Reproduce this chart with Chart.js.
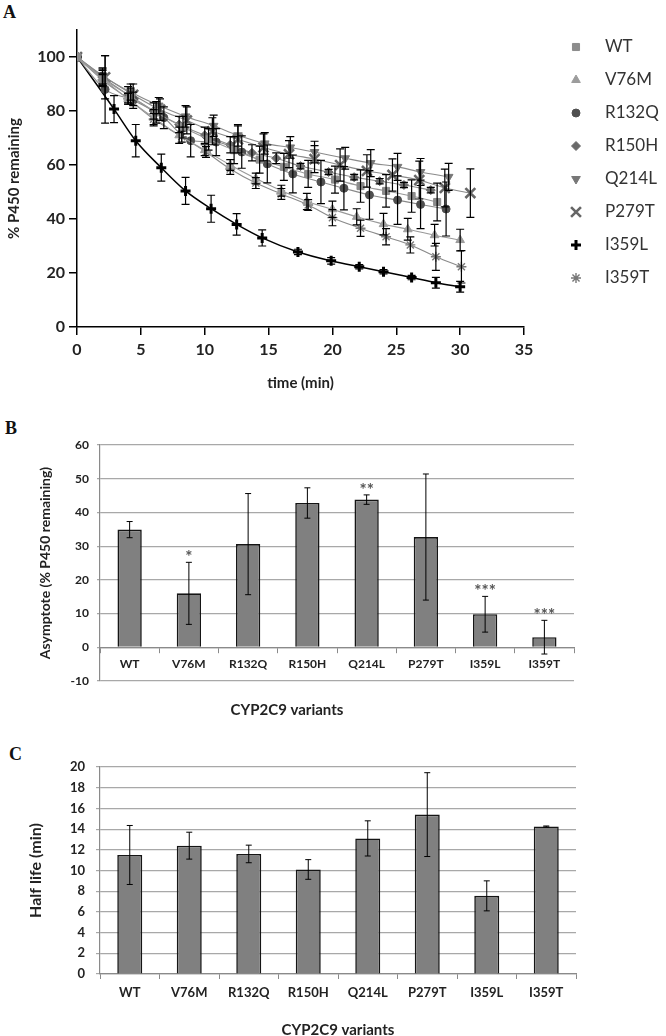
<!DOCTYPE html>
<html>
<head>
<meta charset="utf-8">
<script src="https://cdn.jsdelivr.net/npm/chart.js@4.4.1/dist/chart.umd.min.js"></script>
<style>
  html, body { margin: 0; padding: 0; background: #fff; }
  body { width: 666px; height: 1036px; position: relative; overflow: hidden; }
  canvas { position: absolute; left: 0; }
  .panel { position: absolute; font-family: "Liberation Serif", serif; font-weight: bold; font-size: 18px; line-height: 18px; color: #111; }
</style>
</head>
<body>
<div class="panel" style="left:3px; top:3px;">A</div>
<canvas id="chartA" width="666" height="400" style="top:0px"></canvas>
<div class="panel" style="left:5px; top:419px;">B</div>
<canvas id="chartB" width="666" height="310" style="top:420px"></canvas>
<div class="panel" style="left:9px; top:745px;">C</div>
<canvas id="chartC" width="666" height="300" style="top:740px"></canvas>

<script>
// ---------------------------------------------------------
// Dades del panell A: temps (min) i % P450 restant per variant
// ---------------------------------------------------------
const tWT    = [0, 2, 4.2, 6.2, 8.3, 10.3, 12.3, 14.3, 16.2, 18.1, 20.2, 22.2, 24.2, 26.2, 28.2];
const pWT    = [100, 92, 85.5, 79.5, 74, 69.5, 65.5, 62, 59.3, 56.7, 54.6, 52.2, 50.4, 48.5, 46.3];
const eWT    = [0, 3, 3, 4, 4, 4, 5, 5, 5, 5, 5, 6, 6, 6, 7];

const tV76M  = [0, 2, 4, 6, 8, 10, 12, 14, 16, 18, 20, 21.9, 24, 25.9, 28, 30];
const pV76M  = [100, 92, 84.5, 77.5, 71, 65.5, 60, 55, 50.5, 46.5, 43.6, 40.8, 38.1, 36.2, 34, 32.2];
const eV76M  = [0, 2, 2, 3, 3, 2, 2, 2, 2, 3, 3, 3, 4, 4, 4, 4];

const tR132Q = [0, 2.2, 4.4, 6.8, 8.9, 10.9, 12.9, 14.9, 16.9, 19.1, 20.9, 22.9, 25.1, 26.9, 28.9];
const pR132Q = [100, 88, 84, 77.5, 69, 68.5, 64.8, 60.4, 56.7, 53.7, 51.4, 48.9, 47, 45.4, 43.7];
const eR132Q = [0, 12.5, 3, 4, 6, 5, 6, 7, 7, 8, 8, 9, 9, 9, 10];

const tR150H = [0, 2, 4, 6, 8, 10, 12, 13.7, 15.6, 17.5, 19.7, 21.7, 23.7, 25.6, 27.7];
const pR150H = [100, 92.5, 86, 80, 75, 71, 67.5, 64.5, 62.5, 59.6, 57.4, 55.5, 54, 52.6, 50.7];
const eR150H = [0, 3, 3, 3, 3, 3, 3, 3, 2, 1, 1, 1, 1, 1, 1];

const tQ214L = [0, 2, 4.2, 6.4, 8.5, 10.7, 12.6, 14.7, 16.7, 18.6, 21, 23, 25.1, 26.9, 29.1];
const pQ214L = [100, 93, 87, 82, 78, 74.5, 71, 68, 66.5, 64.8, 62.5, 60.7, 59.3, 57.4, 55.6];
const eQ214L = [0, 3, 3, 3, 4, 4, 4, 4, 4, 4, 4, 5, 5, 5, 5];

const tP279T = [0, 2.2, 4.4, 6.5, 8.6, 10.6, 12.6, 14.6, 16.6, 18.6, 20.6, 22.7, 24.7, 26.8, 28.8, 30.8];
const pP279T = [100, 92.5, 86, 80.5, 76.5, 72.5, 69.5, 66.5, 64, 62.2, 60, 57.8, 56.3, 54.4, 51.5, 49.6];
const eP279T = [0, 8, 4, 4, 5, 5, 5, 5, 5, 5, 6, 6, 6, 7, 7, 9];

const tI359L = [0, 2.9, 4.6, 6.6, 8.5, 10.5, 12.5, 14.5, 17.3, 19.9, 22.1, 24, 26.2, 28.1, 30];
const pI359L = [100, 80.7, 69, 59, 50.4, 43.8, 38, 33, 27.8, 24.5, 22.3, 20.5, 18.3, 16.4, 14.9];
const eI359L = [0, 5, 6, 5, 5, 5, 4, 3, 1, 1.2, 0.8, 0.8, 0.8, 2, 2];

const tI359T = [0, 2, 4, 6, 8.2, 10.1, 12, 14, 16, 18.1, 20, 22.2, 24.2, 26.1, 28.1, 30.1];
const pI359T = [100, 91.5, 84.5, 77, 70.5, 64.8, 58.5, 53.3, 49.3, 45.2, 40.5, 36.6, 33.4, 30.4, 26, 22.3];
const eI359T = [0, 2, 2, 2, 2, 2, 2, 2, 2, 2, 3, 3, 3, 3, 5, 6];

const xTicksA = [0, 5, 10, 15, 20, 25, 30, 35];
const yTicksA = [0, 20, 40, 60, 80, 100];

// ---------------------------------------------------------
// Dades dels panells B i C
// ---------------------------------------------------------
const variants     = ['WT', 'V76M', 'R132Q', 'R150H', 'Q214L', 'P279T', 'I359L', 'I359T'];
const asymptote    = [34.9, 16.0, 30.6, 42.8, 43.8, 32.7, 9.8, 3.0];
const asymptoteErr = [2.4, 9.2, 15.0, 4.5, 1.4, 18.7, 5.3, 5.0];
const asymptoteSig = ['', '*', '', '', '**', '', '***', '***'];

const halfLife     = [11.5, 12.4, 11.6, 10.1, 13.1, 15.4, 7.55, 14.25];
const halfLifeErr  = [2.85, 1.3, 0.85, 0.95, 1.7, 4.05, 1.45, 0.05];

// ---------------------------------------------------------
// Estils
// ---------------------------------------------------------
const FONT = 'Lato, "Open Sans", sans-serif';
const dark = '#222';

const estilsA = [
  { label: 'WT',    t: tWT,    p: pWT,    e: eWT,    style: 'rect',     rot: 0,   r: 5,   fill: '#8c8c8c', bw: 1,   line: '#999' },
  { label: 'V76M',  t: tV76M,  p: pV76M,  e: eV76M,  style: 'triangle', rot: 0,   r: 5,   fill: '#9c9c9c', bw: 1,   line: '#999' },
  { label: 'R132Q', t: tR132Q, p: pR132Q, e: eR132Q, style: 'circle',   rot: 0,   r: 4,   fill: '#4f4f4f', bw: 1,   line: '#8a8a8a' },
  { label: 'R150H', t: tR150H, p: pR150H, e: eR150H, style: 'rectRot',  rot: 0,   r: 4.5, fill: '#6a6a6a', bw: 1,   line: '#8a8a8a' },
  { label: 'Q214L', t: tQ214L, p: pQ214L, e: eQ214L, style: 'triangle', rot: 180, r: 5,   fill: '#777',    bw: 1,   line: '#8a8a8a' },
  { label: 'P279T', t: tP279T, p: pP279T, e: eP279T, style: 'crossRot', rot: 0,   r: 7,   fill: '#666',    bw: 2.6, line: '#8a8a8a' },
  { label: 'I359L', t: tI359L, p: pI359L, e: eI359L, style: 'cross',    rot: 0,   r: 5,   fill: '#000',    bw: 3,   line: '#000' },
  { label: 'I359T', t: tI359T, p: pI359T, e: eI359T, style: 'star',     rot: 0,   r: 5,   fill: '#777',    bw: 1.4, line: '#8a8a8a' }
];

// ---------------------------------------------------------
// Plugins: barres d'error, asteriscs de significació i llegenda
// ---------------------------------------------------------
const errorBars = {
  id: 'errorBars',
  afterDatasetsDraw(chart, args, opts) {
    const ctx = chart.ctx;
    const y = chart.scales.y;
    chart.data.datasets.forEach((ds, i) => {
      if (!ds.errors) return;
      const meta = chart.getDatasetMeta(i);
      meta.data.forEach((el, j) => {
        const e = ds.errors[j];
        if (!e) return;
        const d = ds.data[j];
        const v = typeof d === 'object' ? d.y : d;
        const top = y.getPixelForValue(v + e);
        const bot = y.getPixelForValue(v - e);
        ctx.save();
        ctx.strokeStyle = opts.color || '#000';
        ctx.lineWidth = opts.width || 1;
        ctx.beginPath();
        ctx.moveTo(el.x, top); ctx.lineTo(el.x, bot);
        ctx.moveTo(el.x - opts.cap, top); ctx.lineTo(el.x + opts.cap, top);
        ctx.moveTo(el.x - opts.cap, bot); ctx.lineTo(el.x + opts.cap, bot);
        ctx.stroke();
        ctx.restore();
      });
    });
  }
};

const starMarks = {
  id: 'starMarks',
  afterDatasetsDraw(chart) {
    const ctx = chart.ctx;
    const y = chart.scales.y;
    chart.data.datasets.forEach((ds, i) => {
      if (!ds.stars) return;
      const meta = chart.getDatasetMeta(i);
      meta.data.forEach((el, j) => {
        if (!ds.stars[j]) return;
        const top = y.getPixelForValue(ds.data[j] + (ds.errors ? ds.errors[j] : 0));
        ctx.save();
        ctx.fillStyle = '#555';
        ctx.font = 'bold 17px ' + FONT;
        ctx.textAlign = 'center';
        ctx.textBaseline = 'alphabetic';
        ctx.fillText(ds.stars[j], el.x, top + 1);
        ctx.restore();
      });
    });
  }
};

const legendA = {
  id: 'legendA',
  afterDraw(chart) {
    const ctx = chart.ctx;
    chart.data.datasets.forEach((ds, i) => {
      const y = 47 + i * 33;
      ctx.save();
      ctx.fillStyle = ds.pointBackgroundColor;
      ctx.strokeStyle = ds.pointBorderColor;
      ctx.lineWidth = ds.pointBorderWidth;
      Chart.helpers.drawPoint(ctx, {
        pointStyle: ds.pointStyle, rotation: ds.pointRotation,
        radius: ds.pointRadius, borderWidth: ds.pointBorderWidth
      }, 576, y);
      ctx.fillStyle = '#333';
      ctx.font = '17px ' + FONT;
      ctx.textBaseline = 'middle';
      ctx.textAlign = 'left';
      ctx.fillText(ds.label, 605, y);
      ctx.restore();
    });
  }
};

// ---------------------------------------------------------
// Panell A
// ---------------------------------------------------------
new Chart(document.getElementById('chartA'), {
  type: 'scatter',
  data: {
    datasets: estilsA.map(s => ({
      label: s.label,
      data: s.t.map((x, i) => ({ x: x, y: s.p[i] })),
      errors: s.e,
      showLine: true,
      cubicInterpolationMode: 'monotone',
      borderColor: s.line,
      borderWidth: s.label === 'I359L' ? 1.5 : 1.1,
      pointStyle: s.style,
      pointRotation: s.rot,
      pointRadius: s.r,
      pointBackgroundColor: s.fill,
      pointBorderColor: s.fill,
      pointBorderWidth: s.bw
    }))
  },
  options: {
    responsive: false, animation: false, devicePixelRatio: 1,
    layout: { padding: { top: 30, right: 142, bottom: 8, left: 0 } },
    plugins: { legend: { display: false }, tooltip: { enabled: false }, errorBars: { cap: 4, width: 1.2 } },
    scales: {
      x: {
        type: 'linear', min: 0, max: 35,
        afterBuildTicks: s => { s.ticks = xTicksA.map(v => ({ value: v })); },
        ticks: { font: { family: FONT, size: 16, weight: 'bold' }, color: dark, padding: 5 },
        grid: { drawOnChartArea: false, tickLength: 8, color: '#000', lineWidth: 1.5 },
        border: { color: '#000', width: 1.5 },
        title: { display: true, text: 'time (min)', color: dark, font: { family: FONT, size: 15, weight: 'bold' }, padding: 0 },
        afterFit: s => { s.height = 65; }
      },
      y: {
        min: 0, max: 110,
        afterBuildTicks: s => { s.ticks = yTicksA.map(v => ({ value: v })); },
        ticks: { font: { family: FONT, size: 16, weight: 'bold' }, color: dark, padding: 4 },
        grid: { drawOnChartArea: false, tickLength: 8, color: '#000', lineWidth: 1.5 },
        border: { color: '#000', width: 1.5 },
        title: { display: true, text: '% P450 remaining', color: dark, font: { family: FONT, size: 15, weight: 'bold' }, padding: { top: 5, bottom: 0 } },
        afterFit: s => { s.width = 77; }
      }
    }
  },
  plugins: [errorBars, legendA]
});

// ---------------------------------------------------------
// Panell B
// ---------------------------------------------------------
new Chart(document.getElementById('chartB'), {
  type: 'bar',
  data: {
    labels: variants,
    datasets: [{
      data: asymptote, errors: asymptoteErr, stars: asymptoteSig,
      backgroundColor: '#808080', borderColor: '#151515', borderWidth: 1.6,
      barPercentage: 0.41, categoryPercentage: 1
    }]
  },
  options: {
    responsive: false, animation: false, devicePixelRatio: 1,
    layout: { padding: { top: 25, right: 92, bottom: 0, left: 0 } },
    plugins: {
      legend: { display: false }, tooltip: { enabled: false },
      errorBars: { cap: 3, width: 1 },
      title: { display: true, position: 'bottom', text: 'CYP2C9 variants', color: dark, font: { family: FONT, size: 15, weight: 'bold' }, padding: { top: 20, bottom: 11 } }
    },
    scales: {
      x: {
        position: { y: 0 },
        ticks: { font: { family: FONT, size: 12, weight: 'bold' }, color: dark, padding: 5 },
        grid: { drawOnChartArea: false, tickLength: 5, color: '#8a8a8a', offset: true },
        border: { color: '#8a8a8a', width: 1.2 },
        afterFit: s => { s.height = 0; }
      },
      y: {
        min: -10, max: 60,
        ticks: { stepSize: 10, font: { family: FONT, size: 12, weight: 'bold' }, color: dark, padding: 8 },
        grid: { color: '#a8a8a8', lineWidth: 1.2, tickLength: 3 },
        border: { color: '#8a8a8a', width: 1.2 },
        title: { display: true, text: 'Asymptote (% P450 remaining)', color: dark, font: { family: FONT, size: 14, weight: 'bold' }, padding: { top: 37, bottom: 0 } },
        afterFit: s => { s.width = 100; }
      }
    }
  },
  plugins: [errorBars, starMarks]
});

// ---------------------------------------------------------
// Panell C
// ---------------------------------------------------------
new Chart(document.getElementById('chartC'), {
  type: 'bar',
  data: {
    labels: variants,
    datasets: [{
      data: halfLife, errors: halfLifeErr,
      backgroundColor: '#808080', borderColor: '#151515', borderWidth: 1.6,
      barPercentage: 0.42, categoryPercentage: 1
    }]
  },
  options: {
    responsive: false, animation: false, devicePixelRatio: 1,
    layout: { padding: { top: 27, right: 90, bottom: 0, left: 0 } },
    plugins: { legend: { display: false }, tooltip: { enabled: false }, errorBars: { cap: 3, width: 1 } },
    scales: {
      x: {
        ticks: { font: { family: FONT, size: 13, weight: 'bold' }, color: dark, padding: 6 },
        grid: { drawOnChartArea: false, tickLength: 5, color: '#8a8a8a', offset: true },
        border: { color: '#8a8a8a', width: 1.2 },
        title: { display: true, text: 'CYP2C9 variants', color: dark, font: { family: FONT, size: 15, weight: 'bold' }, padding: { top: 0, bottom: 1 } },
        afterFit: s => { s.height = 66; }
      },
      y: {
        min: 0, max: 20,
        ticks: { stepSize: 2, font: { family: FONT, size: 13, weight: 'bold' }, color: dark, padding: 11 },
        grid: { color: '#a8a8a8', lineWidth: 1.2, tickLength: 4 },
        border: { color: '#8a8a8a', width: 1.2 },
        title: { display: true, text: 'Half life (min)', color: dark, font: { family: FONT, size: 16, weight: 'bold' }, padding: { top: 26, bottom: 0 } },
        afterFit: s => { s.width = 100; }
      }
    }
  },
  plugins: [errorBars]
});
</script>
</body>
</html>
